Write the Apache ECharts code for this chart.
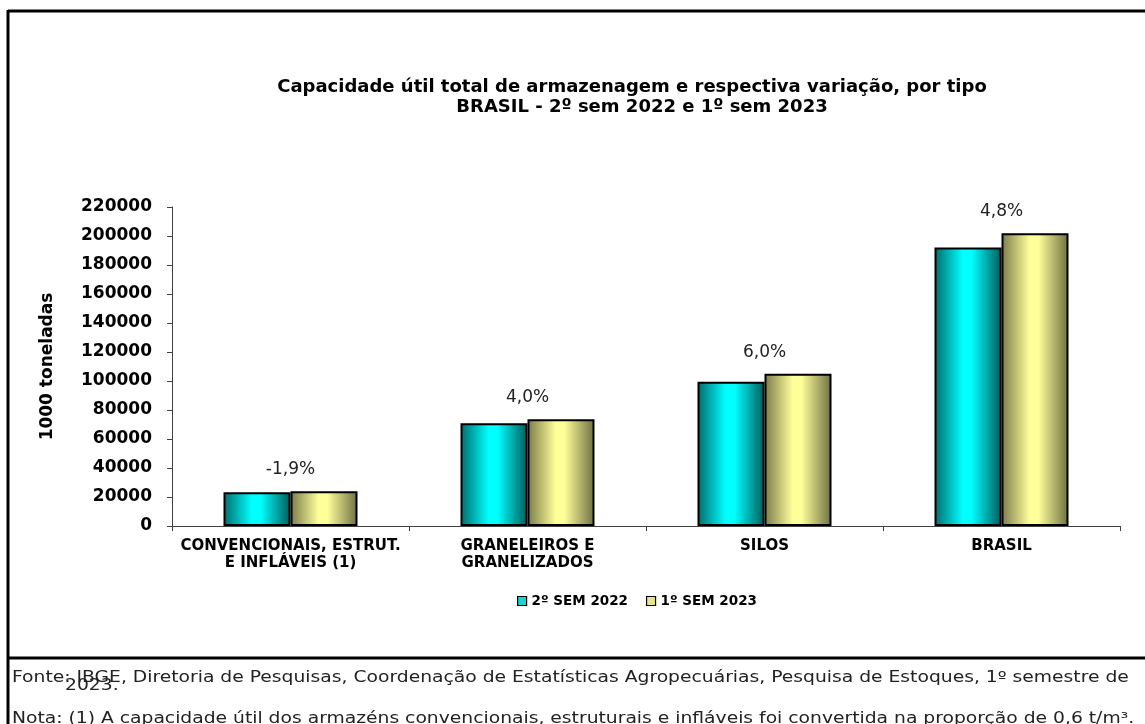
<!DOCTYPE html>
<html>
<head>
<meta charset="utf-8">
<script src="https://cdn.jsdelivr.net/npm/echarts@6/dist/echarts.min.js"></script>
<style>
  html, body { margin: 0; padding: 0; background: #fff; }
  #chart { width: 1145px; height: 724px; }
</style>
</head>
<body>
<div id="chart"></div>
<script>
// categorias e valores (1000 toneladas)
const categories = ['CONVENCIONAIS, ESTRUT.\nE INFLÁVEIS (1)', 'GRANELEIROS E\nGRANELIZADOS', 'SILOS', 'BRASIL']
const sem2022 = [23200, 70800, 99500, 192000]
const sem2023 = [23900, 73600, 105000, 201900]
const variacao = ['-1,9%', '4,0%', '6,0%', '4,8%']
const seriesNames = ['2º SEM 2022', '1º SEM 2023']

const titleLines = [
  'Capacidade útil total de armazenagem e respectiva variação, por tipo',
  'BRASIL - 2º sem 2022 e 1º sem 2023'
]
const fonte = 'Fonte: IBGE, Diretoria de Pesquisas, Coordenação de Estatísticas Agropecuárias, Pesquisa de Estoques, 1º semestre de'
const fonteAno = '2023.'
const nota = 'Nota: (1) A capacidade útil dos armazéns convencionais, estruturais e infláveis foi convertida na proporção de 0,6 t/m³.'

const BOLD = 'bold 18px "DejaVu Sans"'
const NOTE = '16px "DejaVu Sans"'
const noteScale = 1.17
const barW = 67

function grad(dark, light, dark2) {
  return new echarts.graphic.LinearGradient(0, 0, 1, 0, [
    { offset: 0, color: dark },
    { offset: 0.42, color: light },
    { offset: 0.55, color: light },
    { offset: 1, color: dark2 }
  ])
}

const chart = echarts.init(document.getElementById('chart'))

const option = {
  backgroundColor: '#fff',
  animation: false,
  grid: { left: 172, right: 25, top: 207, bottom: 198 },
  legend: {
    left: 512,
    top: 589,
    itemWidth: 9,
    itemHeight: 9,
    itemGap: 18,
    icon: 'rect',
    textStyle: { fontFamily: 'DejaVu Sans', fontWeight: 'bold', fontSize: 13.5, color: '#000' },
    data: [
      { name: seriesNames[0], itemStyle: { color: '#1ad4d4', borderColor: '#000', borderWidth: 1.2 } },
      { name: seriesNames[1], itemStyle: { color: '#e6e68a', borderColor: '#000', borderWidth: 1.2 } }
    ]
  },
  xAxis: {
    type: 'category',
    data: categories,
    axisLine: { lineStyle: { color: '#404040', width: 1 } },
    axisTick: { show: true, length: 5, lineStyle: { color: '#404040' } },
    axisLabel: {
      margin: 12,
      fontFamily: 'DejaVu Sans',
      fontWeight: 'bold',
      fontSize: 15,
      lineHeight: 17,
      color: '#000',
      interval: 0
    }
  },
  yAxis: {
    type: 'value',
    min: 0,
    max: 220000,
    interval: 20000,
    name: '1000 toneladas',
    nameLocation: 'middle',
    nameRotate: 90,
    nameGap: 116,
    nameTextStyle: { fontFamily: 'DejaVu Sans', fontWeight: 'bold', fontSize: 17, color: '#000' },
    splitLine: { show: false },
    axisLine: { show: true, lineStyle: { color: '#404040', width: 1 } },
    axisTick: { show: true, length: 5, lineStyle: { color: '#404040' } },
    axisLabel: {
      margin: 20,
      fontFamily: 'DejaVu Sans',
      fontWeight: 'bold',
      fontSize: 17,
      color: '#000',
      formatter: v => String(v)
    }
  },
  series: [
    {
      name: seriesNames[0],
      type: 'bar',
      barWidth: barW,
      barGap: '0%',
      data: sem2022,
      itemStyle: {
        color: grad('#006b6b', '#00ffff', '#005a5a'),
        borderColor: '#000',
        borderWidth: 2
      }
    },
    {
      name: seriesNames[1],
      type: 'bar',
      barWidth: barW,
      barGap: '0%',
      data: sem2023,
      itemStyle: {
        color: grad('#7a7a4a', '#ffff99', '#6e6e44'),
        borderColor: '#000',
        borderWidth: 2
      },
      label: {
        show: true,
        position: 'top',
        distance: 13,
        offset: [-barW / 2, 0],
        fontFamily: 'DejaVu Sans',
        fontSize: 17,
        color: '#222',
        formatter: p => variacao[p.dataIndex]
      }
    }
  ],
  graphic: [
    // moldura
    { type: 'line', shape: { x1: 8, y1: 11, x2: 1145, y2: 11 }, style: { stroke: '#000', lineWidth: 3 } },
    { type: 'line', shape: { x1: 8, y1: 10, x2: 8, y2: 724 }, style: { stroke: '#000', lineWidth: 3 } },
    { type: 'line', shape: { x1: 8, y1: 658, x2: 1145, y2: 658 }, style: { stroke: '#000', lineWidth: 3 } },
    // título
    { type: 'text', x: 632, y: 87, style: { text: titleLines[0], font: BOLD, fill: '#000', align: 'center', verticalAlign: 'middle' } },
    { type: 'text', x: 642, y: 107, style: { text: titleLines[1], font: BOLD, fill: '#000', align: 'center', verticalAlign: 'middle' } },
    // notas
    { type: 'text', x: 12, y: 678, scaleX: noteScale, style: { text: fonte, font: NOTE, fill: '#222', verticalAlign: 'middle' } },
    { type: 'text', x: 65, y: 686, scaleX: noteScale, style: { text: fonteAno, font: NOTE, fill: '#222', verticalAlign: 'middle' } },
    { type: 'text', x: 12, y: 719, scaleX: noteScale, style: { text: nota, font: NOTE, fill: '#222', verticalAlign: 'middle' } }
  ]
}

chart.setOption(option)
</script>
</body>
</html>
